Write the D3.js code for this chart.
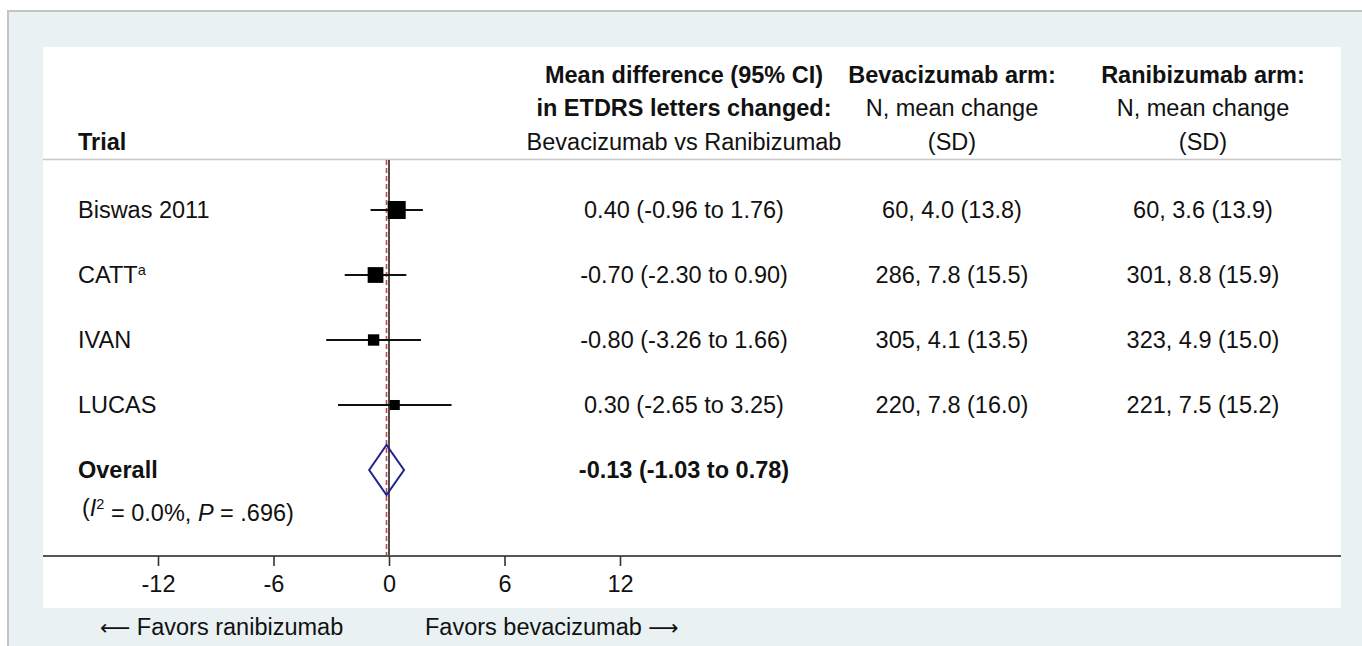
<!DOCTYPE html>
<html><head><meta charset="utf-8">
<script src="https://cdn.jsdelivr.net/npm/d3@7"></script>
<style>
html,body{margin:0;padding:0;background:#fff;}
svg{display:block;font-family:"Liberation Sans",Arial,Helvetica,sans-serif;}
</style></head>
<body>
<svg id="c" width="1362" height="646"></svg>
<script>
// ---- data ----
const trials = ["Biswas 2011", "CATT", "IVAN", "LUCAS"];
const trialSup = ["", "a", "", ""];
const meanDiff = [0.40, -0.70, -0.80, 0.30];
const ciLow = [-0.96, -2.30, -3.26, -2.65];
const ciHigh = [1.76, 0.90, 1.66, 3.25];
const weights = [44.7, 32.2, 13.6, 9.5];
const bevN = [60, 286, 305, 220];
const bevMean = [4.0, 7.8, 4.1, 7.8];
const bevSD = [13.8, 15.5, 13.5, 16.0];
const ranN = [60, 301, 323, 221];
const ranMean = [3.6, 8.8, 4.9, 7.5];
const ranSD = [13.9, 15.9, 15.0, 15.2];
const overallLabel = "Overall";
const overallMD = -0.13, overallLow = -1.03, overallHigh = 0.78;
const overallStats = { i2: "0.0%", p: ".696" };
const xTicks = [-12, -6, 0, 6, 12];
const headerTrial = "Trial";
const headerMD = ["Mean difference (95% CI)", "in ETDRS letters changed:", "Bevacizumab vs Ranibizumab"];
const headerBev = ["Bevacizumab arm:", "N, mean change", "(SD)"];
const headerRan = ["Ranibizumab arm:", "N, mean change", "(SD)"];
const favorLeftArrow = "\u27F5", favorLeftText = "Favors ranibizumab";
const favorRightText = "Favors bevacizumab", favorRightArrow = "\u27F6";

// ---- layout ----
const svg = d3.select("#c");
const FS = 23.5;
const txt = "#111";
const f2 = v => v.toFixed(2);
const f1 = v => v.toFixed(1);

// backgrounds
svg.append("rect").attr("x", 8).attr("y", 11).attr("width", 1362).attr("height", 646)
  .attr("fill", "#e9f1f3").attr("stroke", "#c4c4c4").attr("stroke-width", 2);
const panel = { x0: 43, x1: 1341, y0: 47, y1: 608 };
svg.append("rect").attr("x", panel.x0).attr("y", panel.y0)
  .attr("width", panel.x1 - panel.x0).attr("height", panel.y1 - panel.y0).attr("fill", "#fff");

const x = d3.scaleLinear().domain([-12, 12]).range([158, 620]);
const rows = trials.concat([overallLabel]);
const y = d3.scalePoint().domain(rows).range([210, 470]);
const size = d3.scaleSqrt().domain([0, d3.max(weights)]).range([3.2, 18]);
const plotTop = 160, axisY = 556;

// header
const colMD = 684, colBev = 952, colRan = 1203, colTrial = 78;
const hy = [75, 108, 142];
svg.append("text").attr("x", colTrial).attr("y", hy[2]).attr("dy", "0.35em")
  .attr("font-size", FS).attr("font-weight", "bold").attr("fill", txt).text(headerTrial);
function headerCol(lines, cx) {
  lines.forEach((t, i) => {
    svg.append("text").attr("x", cx).attr("y", hy[i]).attr("dy", "0.35em")
      .attr("text-anchor", "middle").attr("font-size", FS)
      .attr("font-weight", i === 0 || (lines === headerMD && i === 1) ? "bold" : "normal")
      .attr("fill", txt).text(t);
  });
}
headerCol(headerMD, colMD);
headerCol(headerBev, colBev);
headerCol(headerRan, colRan);

// header rule
svg.append("line").attr("x1", panel.x0).attr("x2", panel.x1).attr("y1", 159.5).attr("y2", 159.5)
  .attr("stroke", "#c8c8c8").attr("stroke-width", 1.5);

// zero line and overall dashed line
svg.append("line").attr("x1", x(0)).attr("x2", x(0)).attr("y1", plotTop).attr("y2", axisY)
  .attr("stroke", "#222").attr("stroke-width", 1.6);
svg.append("line").attr("x1", x(overallMD)).attr("x2", x(overallMD)).attr("y1", plotTop).attr("y2", axisY)
  .attr("stroke", "#c0474f").attr("stroke-width", 1.6).attr("stroke-dasharray", "5,3");

// axis
svg.append("line").attr("x1", panel.x0).attr("x2", panel.x1).attr("y1", axisY).attr("y2", axisY)
  .attr("stroke", "#555").attr("stroke-width", 2);
const axis = d3.axisBottom(x).tickValues(xTicks).tickSize(10).tickPadding(9)
  .tickFormat(d => String(d));
const ag = svg.append("g").attr("transform", `translate(0,${axisY})`).call(axis);
ag.select(".domain").remove();
ag.selectAll(".tick line").attr("stroke", "#333").attr("stroke-width", 1.6);
ag.selectAll(".tick text").attr("font-size", FS).attr("fill", txt)
  .attr("font-family", "'Liberation Sans',Arial,sans-serif");

// trial rows
trials.forEach((t, i) => {
  const yy = y(t);
  const lab = svg.append("text").attr("x", colTrial).attr("y", yy).attr("dy", "0.35em")
    .attr("font-size", FS).attr("fill", txt).text(t);
  if (trialSup[i]) lab.append("tspan").attr("dy", "-0.55em").attr("font-size", FS * 0.62).text(trialSup[i]);
  svg.append("line").attr("x1", x(ciLow[i])).attr("x2", x(ciHigh[i])).attr("y1", yy).attr("y2", yy)
    .attr("stroke", "#111").attr("stroke-width", 2);
  const s = size(weights[i]);
  svg.append("rect").attr("x", x(meanDiff[i]) - s / 2).attr("y", yy - s / 2)
    .attr("width", s).attr("height", s).attr("fill", "#000");
  svg.append("text").attr("x", colMD).attr("y", yy).attr("dy", "0.35em").attr("text-anchor", "middle")
    .attr("font-size", FS).attr("fill", txt)
    .text(`${f2(meanDiff[i])} (${f2(ciLow[i])} to ${f2(ciHigh[i])})`);
  svg.append("text").attr("x", colBev).attr("y", yy).attr("dy", "0.35em").attr("text-anchor", "middle")
    .attr("font-size", FS).attr("fill", txt)
    .text(`${bevN[i]}, ${f1(bevMean[i])} (${f1(bevSD[i])})`);
  svg.append("text").attr("x", colRan).attr("y", yy).attr("dy", "0.35em").attr("text-anchor", "middle")
    .attr("font-size", FS).attr("fill", txt)
    .text(`${ranN[i]}, ${f1(ranMean[i])} (${f1(ranSD[i])})`);
});

// overall
const oy = y(overallLabel);
svg.append("text").attr("x", colTrial).attr("y", oy).attr("dy", "0.35em")
  .attr("font-size", FS).attr("font-weight", "bold").attr("fill", txt).text(overallLabel);
const st = svg.append("text").attr("x", colTrial + 4).attr("y", oy + 38).attr("dy", "0.35em")
  .attr("font-size", FS).attr("fill", txt);
st.append("tspan").text("(");
st.append("tspan").attr("font-style", "italic").text("I");
st.append("tspan").attr("dy", "-0.5em").attr("font-size", FS * 0.62).text("2");
st.append("tspan").attr("dy", "0.5em").text(` = ${overallStats.i2}, `);
st.append("tspan").attr("font-style", "italic").text("P");
st.append("tspan").text(` = ${overallStats.p})`);
const dh = 25;
svg.append("path")
  .attr("d", `M${x(overallLow)},${oy} L${x(overallMD)},${oy - dh} L${x(overallHigh)},${oy} L${x(overallMD)},${oy + dh} Z`)
  .attr("fill", "none").attr("stroke", "#22228a").attr("stroke-width", 2);
svg.append("text").attr("x", colMD).attr("y", oy).attr("dy", "0.35em").attr("text-anchor", "middle")
  .attr("font-size", FS).attr("font-weight", "bold").attr("fill", txt)
  .text(`${f2(overallMD)} (${f2(overallLow)} to ${f2(overallHigh)})`);

// favours labels
const fl = svg.append("text").attr("x", 100).attr("y", 627).attr("dy", "0.35em")
  .attr("font-size", FS).attr("fill", txt);
fl.append("tspan").attr("font-family", "'DejaVu Sans',sans-serif").attr("font-size", FS * 0.9).text(favorLeftArrow);
fl.append("tspan").text(" " + favorLeftText);
const fr = svg.append("text").attr("x", 425).attr("y", 627).attr("dy", "0.35em")
  .attr("font-size", FS).attr("fill", txt);
fr.append("tspan").text(favorRightText + " ");
fr.append("tspan").attr("font-family", "'DejaVu Sans',sans-serif").attr("font-size", FS * 0.9).text(favorRightArrow);
</script>
</body></html>
